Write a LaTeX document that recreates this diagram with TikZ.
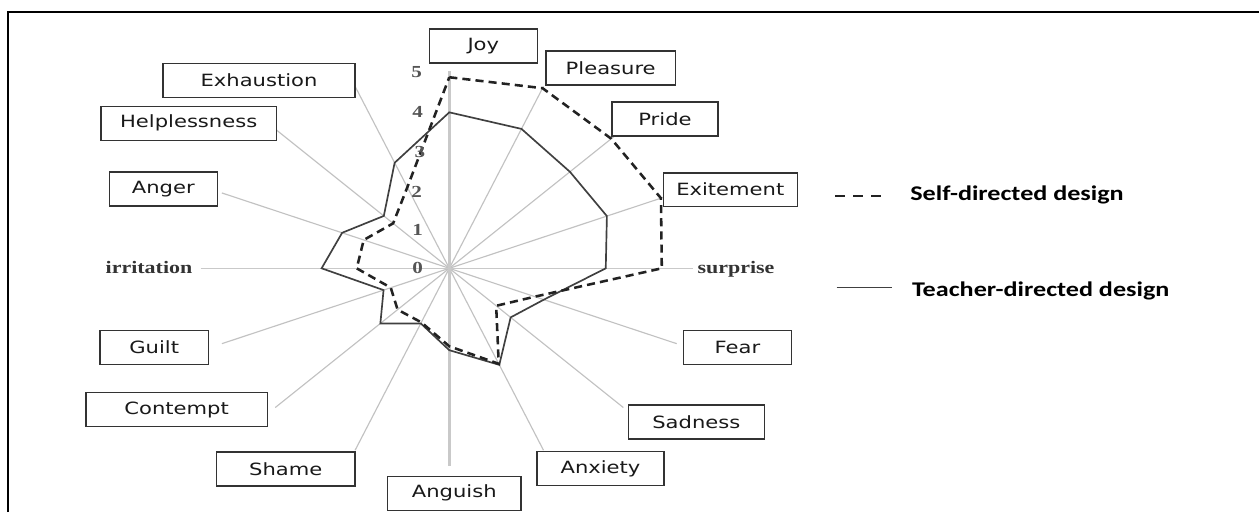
\documentclass[tikz,border=0pt]{standalone}
\usepackage{fontspec}
\newfontfamily\labfont[FakeStretch=1.25]{DejaVu Sans}
\newfontfamily\legfont[FakeStretch=1.25]{Carlito}
\newfontfamily\numfont[FakeStretch=1.25]{Liberation Serif}
\definecolor{spk}{HTML}{C2C2C2}
\definecolor{axs}{HTML}{C9C9C9}
\definecolor{boxc}{HTML}{333333}
\definecolor{ser}{HTML}{222222}
\definecolor{tchr}{HTML}{404040}
\definecolor{tick}{HTML}{555555}
\tikzset{
 lab/.style={draw=boxc, fill=white, line width=0.9pt, minimum height=0.68cm, inner sep=0pt, font=\labfont\fontsize{9.6}{11}\selectfont, text=black!90},
 spoke/.style={draw=spk, line width=0.65pt},
 mainaxis/.style={draw=axs, line width=1.6pt},
 haxis/.style={draw=axs, line width=0.9pt},
 selfline/.style={draw=ser, line width=1.45pt, dash pattern=on 4.6pt off 2.9pt},
 teachline/.style={draw=tchr, line width=0.95pt},
 ticklab/.style={inner sep=0pt, text=tick, font=\numfont\bfseries\fontsize{9.6}{11}\selectfont},
 axlab/.style={inner sep=0pt, anchor=base, text=black!80, font=\numfont\bfseries\fontsize{10}{12}\selectfont},
 leg/.style={inner sep=0pt, anchor=base west, text=black, font=\legfont\bfseries\fontsize{11.9}{14}\selectfont},
}
\begin{document}
\begin{tikzpicture}[x=0.02cm,y=-0.02cm]
\useasboundingbox (0,0) rectangle (1259,512);
\fill[white] (0,0) rectangle (1259,512);
% frame
\coordinate (fbl) at (8,512);
\coordinate (ftl) at (8,12);
\coordinate (ftr) at (1259,12);
\draw[line width=1.15pt] (fbl) -- (ftl) -- (ftr);

% radar
\begin{scope}[shift={(449.3,268.3)}, x=0.975cm, y=0.78cm]
\coordinate (O) at (0,0);
\foreach \a/\n in {67.5/pleasure,45/pride,22.5/exit,-22.5/fear,-45/sad,-67.5/anx,-112.5/shame,-135/contempt,-157.5/guilt,157.5/anger,135/help,112.5/exh}{
  \coordinate (e\n) at (\a:5.05);
  \draw[spoke] (O) -- (e\n);
}
\coordinate (eirr) at (180:5.1);
\coordinate (esur) at (0:5.0);
\draw[haxis] (eirr) -- (esur);
\coordinate (ejoy) at (90:5.06);
\coordinate (eang) at (-90:5.08);
\draw[mainaxis] (ejoy) -- (eang);

\draw[teachline] (90:4.0) -- (67.5:3.87) -- (45:3.5) -- (22.5:3.5) -- (0:3.21) -- (-22.5:2.1) -- (-45:1.78) -- (-67.5:2.68) -- (-90:2.1) -- (-112.5:1.53) -- (-135:2.0) -- (-157.5:1.46) -- (180:2.62) -- (157.5:2.38) -- (135:1.9) -- (112.5:2.93) -- cycle;
\draw[selfline] (90:4.9) -- (67.5:5.0) -- (45:4.7) -- (22.5:4.7) -- (0:4.36) -- (-22.5:1.9) -- (-45:1.36) -- (-67.5:2.65) -- (-90:2.0) -- (-112.5:1.5) -- (-135:1.5) -- (-157.5:1.3) -- (180:1.9) -- (157.5:1.9) -- (135:1.63) -- (112.5:2.25) -- cycle;
\end{scope}

% scale numbers
\node[ticklab] (t5) at (416.7,71.7) {5};
\node[ticklab] (t4) at (417.7,111.7) {4};
\node[ticklab] (t3) at (420,151.7) {3};
\node[ticklab] (t2) at (416.7,191.7) {2};
\node[ticklab] (t1) at (417.7,230) {1};
\node[ticklab] (t0) at (417.7,268.3) {0};

% category labels
\node[lab, minimum width=2.16cm] (joy) at (483.3,45.8) {Joy};
\node[lab, minimum width=2.6cm] (pleasure) at (610.7,68.2) {Pleasure};
\node[lab, minimum width=2.12cm] (pride) at (665,119) {Pride};
\node[lab, minimum width=2.68cm] (exit) at (730.3,189.7) {Exitement};
\node[axlab] (sur) at (736,273.3) {surprise};
\node[lab, minimum width=2.16cm] (fear) at (737.5,347.5) {Fear};
\node[lab, minimum width=2.72cm] (sad) at (696.3,421.8) {Sadness};
\node[lab, minimum width=2.55cm] (anx) at (600.5,468.5) {Anxiety};
\node[lab, minimum width=2.67cm] (ang) at (454.3,493.3) {Anguish};
\node[lab, minimum width=2.77cm] (shame) at (285.8,468.8) {Shame};
\node[lab, minimum width=3.63cm] (contempt) at (176.7,409.5) {Contempt};
\node[lab, minimum width=2.17cm] (guilt) at (154.2,347.5) {Guilt};
\node[axlab] (irr) at (149,273.3) {irritation};
\node[lab, minimum width=2.16cm] (anger) at (163.3,189.2) {Anger};
\node[lab, minimum width=3.52cm] (help) at (188.7,123.3) {Helplessness};
\node[lab, minimum width=3.85cm] (exh) at (259,80.5) {Exhaustion};

% legend
\coordinate (l1a) at (835,195.7);
\coordinate (l1b) at (882,195.7);
\draw[draw=ser, line width=1.1pt, dash pattern=on 5.67pt off 4.7pt] (l1a) -- (l1b);
\coordinate (l2a) at (836.7,287.3);
\coordinate (l2b) at (891.7,287.3);
\draw[draw=tchr, line width=0.85pt] (l2a) -- (l2b);
\node[leg] (self) at (910,200.7) {Self-directed design};
\node[leg] (teach) at (911.7,296.7) {Teacher-directed design};
\end{tikzpicture}
\end{document}
